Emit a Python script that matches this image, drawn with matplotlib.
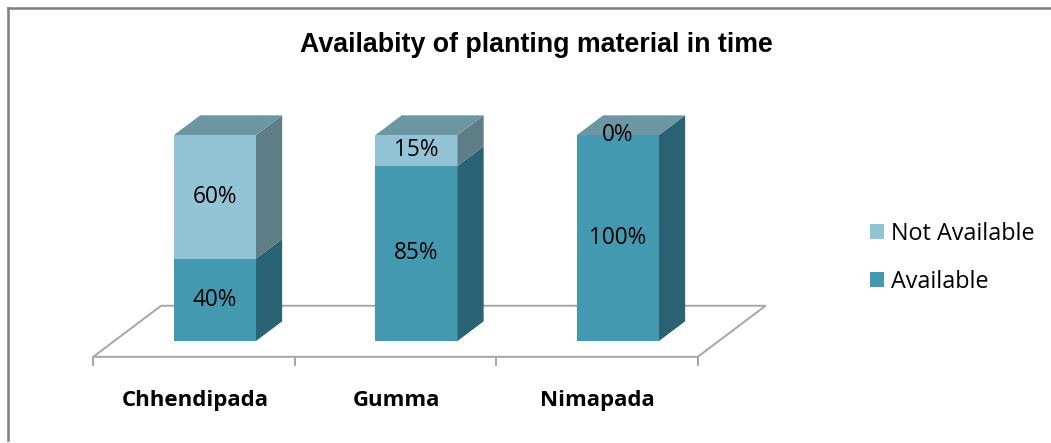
#!/usr/bin/env python3
"""3D-look stacked column chart: availability of planting material in time."""
import matplotlib
matplotlib.use("Agg")
import matplotlib.pyplot as plt
from matplotlib.patches import Polygon, Patch
from matplotlib.lines import Line2D

# ── data ──────────────────────────────────────────────────────
villages = ["Chhendipada", "Gumma", "Nimapada"]
available = [40, 85, 100]
not_available = [60, 15, 0]
series_names = ["Available", "Not Available"]

# ── style ─────────────────────────────────────────────────────
FRONT = {"Available": "#4299B0", "Not Available": "#93C4D5"}
SIDE = {"Available": "#2A6474", "Not Available": "#5F7D87"}
TOP = "#6C96A2"
FLOOR_EDGE = "#A6A6A6"
BODY_FONT = ["Open Sans", "DejaVu Sans"]

# oblique projection: one unit of depth moves (DX, DY) in data units
DX, DY = 0.337, 24.8
BAR_HALF = 0.2035
BAR_DEPTH = 0.385
FLOOR_Z = (-0.31, 0.69)
FLOOR_X = (-0.5, len(villages) - 0.5)


def proj(x, y, z):
    return (x + z * DX, y + z * DY)


fig = plt.figure(figsize=(10.51, 4.43), dpi=100)
ax = fig.add_axes([0, 0, 1, 1])
ax.set_xlim(-215 / 201.5, (1051 - 215) / 201.5)
ax.set_ylim(-102 / 2.06, 341 / 2.06)
ax.axis("off")

# floor
z0, z1 = FLOOR_Z
xa, xb = FLOOR_X
floor = [proj(xa, 0, z0), proj(xb, 0, z0), proj(xb, 0, z1), proj(xa, 0, z1)]
ax.add_patch(Polygon(floor, closed=True, facecolor="white",
                     edgecolor=FLOOR_EDGE, lw=1.4, zorder=1))
for k in range(len(villages) + 1):
    tx, ty = proj(xa + k, 0, z0)
    ax.plot([tx, tx], [ty, ty - 3.9], color=FLOOR_EDGE, lw=1.4, zorder=1)

# bars
for i, name in enumerate(villages):
    x0, x1 = i - BAR_HALF, i + BAR_HALF
    base = 0
    for sname, vals in zip(series_names, [available, not_available]):
        v = vals[i]
        top = base + v
        if v > 0:
            ax.add_patch(Polygon([proj(x0, base, 0), proj(x1, base, 0),
                                  proj(x1, top, 0), proj(x0, top, 0)],
                                 facecolor=FRONT[sname], edgecolor="none",
                                 zorder=3))
            ax.add_patch(Polygon([proj(x1, base, 0), proj(x1, base, BAR_DEPTH),
                                  proj(x1, top, BAR_DEPTH), proj(x1, top, 0)],
                                 facecolor=SIDE[sname], edgecolor="none",
                                 zorder=3))
        ax.text(i, base + v / 2, f"{v}%", ha="center", va="center",
                fontsize=16.3, family=BODY_FONT, color="black", zorder=5)
        base = top
    ax.add_patch(Polygon([proj(x0, base, 0), proj(x1, base, 0),
                          proj(x1, base, BAR_DEPTH), proj(x0, base, BAR_DEPTH)],
                         facecolor=TOP, edgecolor="none", zorder=4))

# category labels
for i, name in enumerate(villages):
    ax.text(i - 0.1, -29, name, ha="center", va="center", fontsize=16,
            fontweight="bold", family=BODY_FONT, color="black")

# legend
handles = [Patch(facecolor=FRONT["Not Available"], label="Not Available"),
           Patch(facecolor=FRONT["Available"], label="Available")]
ax.legend(handles=handles, loc="center left",
          bbox_to_anchor=(858 / 1051, 1 - 258 / 443), frameon=False,
          prop={"family": BODY_FONT, "size": 16.8},
          handlelength=0.62, handleheight=0.62, handletextpad=0.3,
          labelspacing=1.03, borderpad=0)

# title
fig.text(536 / 1051, 1 - 45 / 443, "Availabity of planting material in time",
         ha="center", va="center", fontsize=19.3, fontweight="bold",
         family=["Liberation Sans", "DejaVu Sans"])

# chart border (top and left edges visible)
fig.add_artist(Line2D([8 / 1051, 1], [1 - 8 / 443, 1 - 8 / 443],
                      color="#7F7F7F", lw=1.8))
fig.add_artist(Line2D([8 / 1051, 8 / 1051], [1 - 8 / 443, 1 - 440 / 443],
                      color="#7F7F7F", lw=1.8))

fig.savefig("out.png", dpi=100)
